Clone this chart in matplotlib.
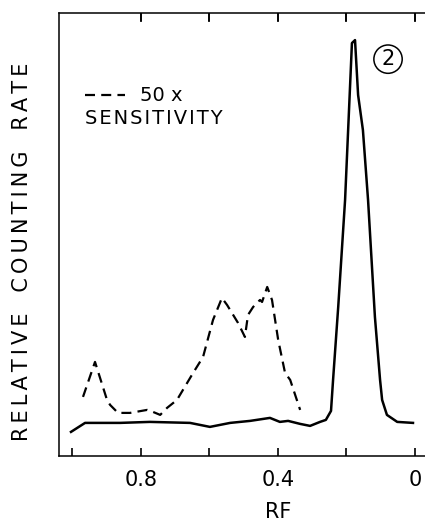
import matplotlib
matplotlib.use('Agg')
import matplotlib.pyplot as plt
from matplotlib.ticker import FixedLocator, FixedFormatter, NullFormatter

plt.rcParams['font.family'] = 'DejaVu Sans'

# solid trace (normal sensitivity)
rf_solid = [1.003, 0.962, 0.860, 0.773, 0.656, 0.598, 0.539, 0.481, 0.423, 0.394,
            0.370, 0.335, 0.306, 0.277, 0.260, 0.245, 0.239, 0.224, 0.204, 0.184,
            0.175, 0.166, 0.152, 0.137, 0.117, 0.102, 0.096, 0.082, 0.052, 0.006]
rate_solid = [24, 33, 33, 34, 33, 29, 33, 35, 38, 34,
              35, 32, 30, 34, 36, 45, 76, 149, 256, 413,
              416, 361, 326, 256, 139, 76, 56, 41, 34, 33]

# dashed trace (50x sensitivity)
rf_dash = [0.968, 0.933, 0.898, 0.889, 0.866, 0.831, 0.781, 0.764, 0.743, 0.723,
           0.694, 0.647, 0.618, 0.589, 0.563, 0.548, 0.516, 0.496, 0.487, 0.472,
           0.452, 0.446, 0.431, 0.417, 0.399, 0.379, 0.364, 0.335]
rate_dash = [59, 94, 56, 51, 43, 43, 46, 44, 41, 48,
             56, 83, 99, 136, 158, 151, 133, 119, 141, 149,
             156, 154, 169, 156, 116, 83, 76, 46]

xticks = [0.8, 0.6, 0.4, 0.2, 0.0]
xticklabels = ['0.8', '', '0.4', '', '0']
bottom_only_ticks = [1.0]

fig = plt.figure(figsize=(4.25, 5.24), dpi=100)
ax = fig.add_axes([0.1388, 0.130, 0.8612, 0.845])

ax.plot(rf_solid, rate_solid, color='black', lw=1.8, solid_joinstyle='round')
ax.plot(rf_dash, rate_dash, color='black', lw=1.6, dashes=(4.5, 2.8))

ax.set_xlim(1.038, -0.029)
ax.set_ylim(0, 443)

ax.spines['right'].set_visible(False)
for s in ['left', 'top', 'bottom']:
    ax.spines[s].set_linewidth(1.1)

ax.xaxis.set_major_locator(FixedLocator(xticks))
ax.xaxis.set_major_formatter(FixedFormatter(xticklabels))
ax.xaxis.set_minor_locator(FixedLocator(bottom_only_ticks))
ax.xaxis.set_minor_formatter(NullFormatter())
ax.tick_params(axis='x', which='major', direction='in', top=True,
               length=6, width=1.2, pad=10, labelsize=15)
ax.tick_params(axis='x', which='minor', direction='in', top=False,
               length=6, width=1.2)
ax.set_yticks([])

# inward tick marks hanging from the top frame
ax.vlines(xticks, 1 - 0.019, 1, transform=ax.get_xaxis_transform(),
          color='black', lw=1.2, clip_on=False)

ax.set_xlabel('RF', fontsize=15)
ax.xaxis.set_label_coords(0.598, -0.105)
ylab = '\u2009'.join('RELATIVE') + '\u2003' + '\u2009'.join('COUNTING') + '\u2003' + '\u2009'.join('RATE')
ax.set_ylabel(ylab, fontsize=15)
ax.yaxis.set_label_coords(-0.074, 0.46)

# key for the dashed trace
ax.plot([0.071, 0.180], [0.815, 0.815], transform=ax.transAxes, color='black',
        lw=1.6, dashes=(4.5, 2.8))
ax.text(0.221, 0.815, '50 x', transform=ax.transAxes, fontsize=14,
        va='center', ha='left')
ax.text(0.071, 0.763, '\u200a'.join('SENSITIVITY'),
        transform=ax.transAxes, fontsize=14, va='center', ha='left')

# panel number
ax.text(0.899, 0.896, '2', transform=ax.transAxes, fontsize=15, ha='center',
        va='center', bbox=dict(boxstyle='circle,pad=0.2', fc='none', ec='black', lw=1.1))

fig.savefig('out.png', dpi=100)
